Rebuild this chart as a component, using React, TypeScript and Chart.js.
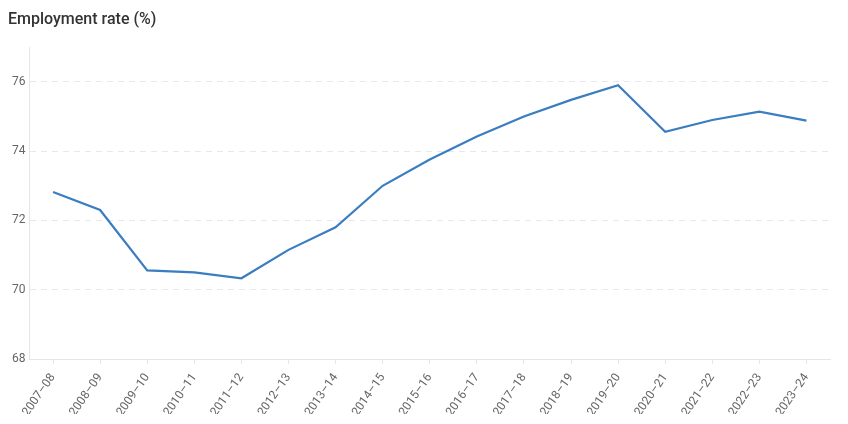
import React, { useEffect, useRef } from "react";
import { Chart, registerables } from "chart.js";

Chart.register(...registerables);

const categories = [
  "2007–08", "2008–09", "2009–10", "2010–11", "2011–12", "2012–13", "2013–14",
  "2014–15", "2015–16", "2016–17", "2017–18", "2018–19", "2019–20", "2020–21",
  "2021–22", "2022–23", "2023–24",
];
const employmentRate = [
  72.82, 72.3, 70.56, 70.5, 70.33, 71.15, 71.8, 73.0, 73.76, 74.42, 75.0,
  75.48, 75.9, 74.56, 74.9, 75.14, 74.88,
];
const yTicks = [68, 70, 72, 74, 76];
const titleText = "Employment rate (%)";

export default function App() {
  const ref = useRef<HTMLCanvasElement>(null);
  useEffect(() => {
    if (!ref.current) return;
    const chart = new Chart(ref.current, {
      type: "line",
      data: {
        labels: categories,
        datasets: [
          {
            label: titleText,
            data: employmentRate,
            borderColor: "#3a7dc0",
            backgroundColor: "#3a7dc0",
            borderWidth: 2.2,
            pointRadius: 0,
            tension: 0,
          },
        ],
      },
      options: {
        animation: false,
        responsive: true,
        maintainAspectRatio: false,
        layout: { padding: { top: 0, right: 10, bottom: 2, left: 0 } },
        plugins: {
          legend: { display: false },
          tooltip: { enabled: false },
          title: {
            display: true,
            text: titleText,
            align: "start",
            color: "#333",
            font: { family: "Roboto", size: 16, weight: "500" },
            padding: { top: 2, bottom: 18 },
          },
        },
        scales: {
          x: {
            offset: true,
            afterFit: (scale: any) => {
              scale.height = 55;
            },
            grid: {
              display: true,
              drawOnChartArea: false,
              drawTicks: true,
              tickLength: 5,
              color: "#e6e6e6",
            },
            border: { display: true, color: "#e6e6e6" },
            ticks: {
              color: "#666",
              font: { family: "Roboto", size: 12 },
              minRotation: 55,
              maxRotation: 55,
              autoSkip: false,
              padding: 7,
            },
          },
          y: {
            min: 68,
            max: 77,
            afterBuildTicks: (axis: any) => {
              axis.ticks = yTicks.map((v) => ({ value: v }));
            },
            grid: {
              color: "#e8e8e8",
              drawTicks: false,
            },
            border: { display: true, color: "#e6e6e6", dash: [6, 5] },
            ticks: {
              color: "#666",
              font: { family: "Roboto", size: 12 },
              padding: 4,
            },
          },
        },
      },
    });
    return () => chart.destroy();
  }, []);
  return (
    <div style={{ width: 832, height: 408 }}>
      <canvas ref={ref} />
    </div>
  );
}
